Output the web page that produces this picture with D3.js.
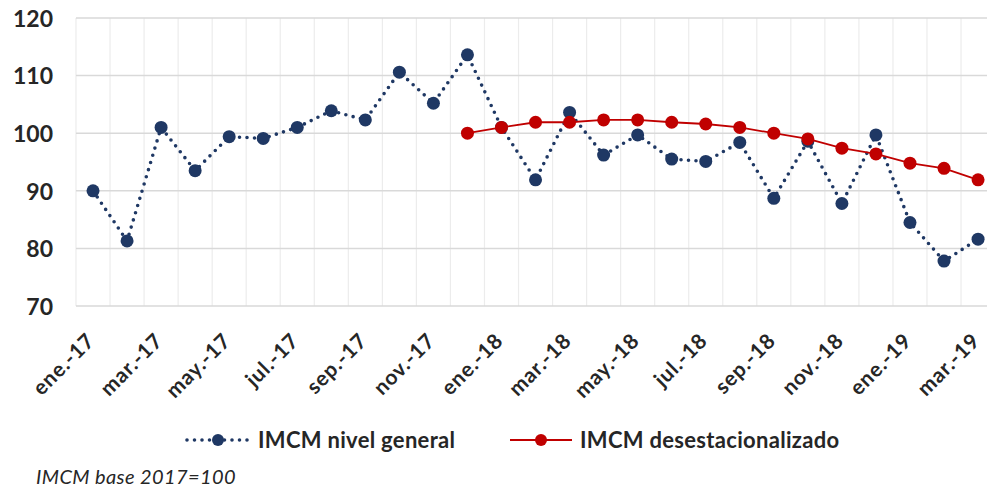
<!DOCTYPE html>
<html>
<head>
<meta charset="utf-8">
<script src="https://d3js.org/d3.v7.min.js"></script>
<style>
  body { margin: 0; background: #fff; }
  svg { display: block; font-family: Lato, "Open Sans", sans-serif; }
</style>
</head>
<body>
<script>
// months ene-17 .. mar-19
var months = ["ene.-17","feb.-17","mar.-17","abr.-17","may.-17","jun.-17","jul.-17","ago.-17","sep.-17","oct.-17","nov.-17","dic.-17",
              "ene.-18","feb.-18","mar.-18","abr.-18","may.-18","jun.-18","jul.-18","ago.-18","sep.-18","oct.-18","nov.-18","dic.-18",
              "ene.-19","feb.-19","mar.-19"];
var general = [90.0, 81.3, 101.0, 93.5, 99.4, 99.1, 101.0, 103.9, 102.3, 110.6, 105.2, 113.6,
               101.0, 91.9, 103.6, 96.2, 99.7, 95.5, 95.1, 98.4, 88.7, 98.6, 87.8, 99.7,
               84.5, 77.8, 81.6];
// seasonally adjusted series starts at dic.-17
var desestMonths = months.slice(11);
var desest = [100.0, 101.0, 101.9, 101.9, 102.3, 102.3, 101.9, 101.6, 101.0, 100.0, 99.0, 97.4, 96.4, 94.8, 93.9, 91.9];
var yTicks = [70, 80, 90, 100, 110, 120];

var W = 987, H = 487;
var plotLeft = 76, plotTop = 18, plotBottom = 306, bandW = 34.04;

var svg = d3.select("body").append("svg").attr("width", W).attr("height", H);

var x = d3.scaleBand().domain(months).range([plotLeft, plotLeft + bandW * months.length]).padding(0);
var y = d3.scaleLinear().domain([70, 120]).range([plotBottom, plotTop]);

// vertical gridlines (category boundaries)
svg.append("g").selectAll("line")
  .data(months)
  .enter().append("line")
  .attr("x1", function(d) { return x(d); }).attr("x2", function(d) { return x(d); })
  .attr("y1", plotTop).attr("y2", plotBottom)
  .attr("stroke", "#ececec").attr("stroke-width", 1.2);

// horizontal gridlines
svg.append("g").selectAll("line")
  .data(yTicks)
  .enter().append("line")
  .attr("x1", plotLeft).attr("x2", W)
  .attr("y1", function(d) { return y(d); }).attr("y2", function(d) { return y(d); })
  .attr("stroke", "#d9d9d9").attr("stroke-width", 1.5);

// y axis labels
var yAxis = d3.axisLeft(y).tickValues(yTicks).tickSize(0).tickPadding(0);
var gy = svg.append("g").attr("transform", "translate(53,0)").call(yAxis);
gy.select(".domain").remove();
gy.selectAll("text")
  .style("font-family", "Lato, sans-serif")
  .style("font-size", "23px").style("font-weight", "700").attr("fill", "#262626")
  .attr("dy", "0.36em");

// x axis labels, every second month
var xAxis = d3.axisBottom(x).tickValues(months.filter(function(d, i) { return i % 2 === 0; })).tickSize(0);
var gx = svg.append("g").attr("transform", "translate(0," + plotBottom + ")").call(xAxis);
gx.select(".domain").remove();
gx.selectAll("text")
  .style("font-family", "Lato, sans-serif")
  .style("font-size", "21px").style("font-weight", "700").style("letter-spacing", "0.8px")
  .attr("fill", "#262626")
  .attr("text-anchor", "end")
  .attr("x", 0).attr("y", 0).attr("dy", 0)
  .attr("transform", "translate(3,36) rotate(-45)");

var navy = "#1f3864", red = "#c00000";

var line = d3.line().x(function(d) { return x(d[0]) + x.bandwidth() / 2; }).y(function(d) { return y(d[1]); });
var genData = months.map(function(m, i) { return [m, general[i]]; });
var desData = desestMonths.map(function(m, i) { return [m, desest[i]]; });

// general series: dotted line
svg.append("path").datum(genData).attr("d", line)
  .attr("fill", "none").attr("stroke", navy).attr("stroke-width", 3.6)
  .attr("stroke-linecap", "round").attr("stroke-dasharray", "0 7.5");
svg.append("g").selectAll("circle").data(genData).enter().append("circle")
  .attr("cx", function(d) { return x(d[0]) + x.bandwidth() / 2; })
  .attr("cy", function(d) { return y(d[1]); })
  .attr("r", 6.5).attr("fill", navy);

svg.append("path").datum(desData).attr("d", line)
  .attr("fill", "none").attr("stroke", red).attr("stroke-width", 1.8);
svg.append("g").selectAll("circle").data(desData).enter().append("circle")
  .attr("cx", function(d) { return x(d[0]) + x.bandwidth() / 2; })
  .attr("cy", function(d) { return y(d[1]); })
  .attr("r", 6.5).attr("fill", red);

// legend
var ly = 440;
svg.append("line").attr("x1", 187).attr("x2", 250).attr("y1", ly).attr("y2", ly)
  .attr("stroke", navy).attr("stroke-width", 3.6).attr("stroke-linecap", "round").attr("stroke-dasharray", "0 7.5");
svg.append("circle").attr("cx", 218).attr("cy", ly).attr("r", 6).attr("fill", navy);
svg.append("text").attr("x", 258).attr("y", ly).attr("dy", "0.35em")
  .style("font-size", "22px").style("font-weight", "700").style("letter-spacing", "0.3px").attr("fill", "#262626")
  .text("IMCM nivel general");

svg.append("line").attr("x1", 510).attr("x2", 572).attr("y1", ly).attr("y2", ly)
  .attr("stroke", red).attr("stroke-width", 1.8);
svg.append("circle").attr("cx", 541).attr("cy", ly).attr("r", 6).attr("fill", red);
svg.append("text").attr("x", 580).attr("y", ly).attr("dy", "0.35em")
  .style("font-size", "22px").style("font-weight", "700").style("letter-spacing", "0.3px").attr("fill", "#262626")
  .text("IMCM desestacionalizado");

svg.append("text").attr("x", 36).attr("y", 477).attr("dy", "0.35em")
  .style("font-size", "20px").style("font-style", "italic").style("letter-spacing", "0.4px").attr("fill", "#262626")
  .text("IMCM base 2017=100");
</script>
</body>
</html>
